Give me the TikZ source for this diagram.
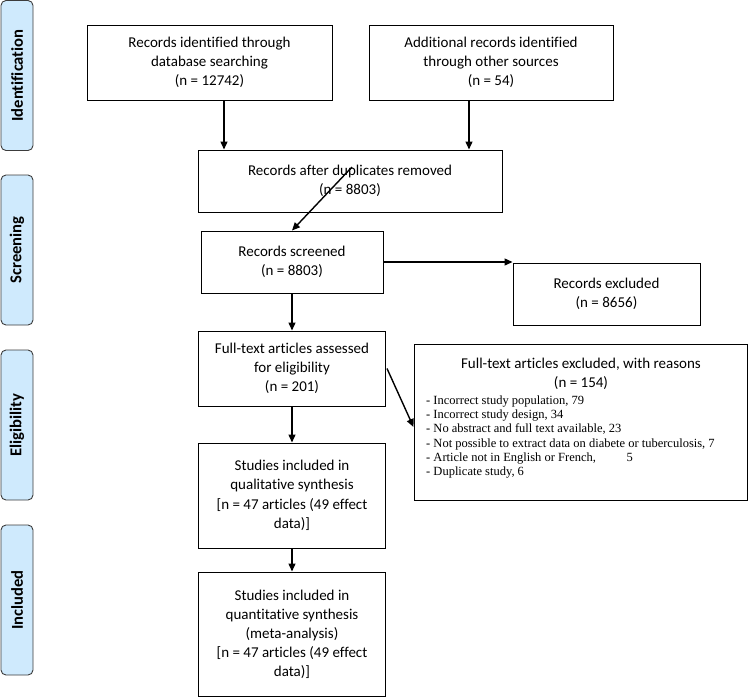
\documentclass[tikz,border=0pt]{standalone}
\usepackage{fontspec}
\setmainfont[Ligatures=CommonOff]{Carlito}
\newfontfamily\tnr{Liberation Serif}
\usetikzlibrary{arrows.meta,calc}
\definecolor{phasefill}{RGB}{207,234,253}
\definecolor{phasedraw}{RGB}{60,60,60}
\tikzset{
  box/.style={draw=black, line width=1pt, inner sep=0pt, align=center,
    font=\fontsize{15}{19}\selectfont},
  phase/.style={draw=phasedraw, fill=phasefill, line width=0.9pt, rounded corners=5pt,
    rotate=90, minimum width=150pt, minimum height=32pt, inner sep=0pt,
    font=\fontsize{16.6}{19}\selectfont\bfseries},
  arr/.style={line width=1.4pt, -{Triangle[length=8pt,width=7pt]}},
  txt/.style={inner sep=0pt, align=center, font=\fontsize{15}{19}\selectfont},
}
\begin{document}
\begin{tikzpicture}[x=1pt,y=-1pt]
\useasboundingbox (0,0) rectangle (748,697);
% phase labels
\node[phase] (pid) at (17,75.5) {Identification};
\node[phase] (pscr) at (17,250) {Screening};
\node[phase] (pel) at (17,425) {Eligibility};
\node[phase] (pinc) at (17,600) {Included};
% boxes
\node[box, minimum width=245pt, minimum height=75pt] (id1) at (209.5,62.5)
  {Records identified through\\database searching\\(n = 12742)};
\node[box, minimum width=244pt, minimum height=75pt] (id2) at (491,62.5)
  {Additional records identified\\through other sources\\(n = 54)};
\node[box, minimum width=304pt, minimum height=62pt] (dup) at (350,181)
  {Records after duplicates removed\\(n = 8803)};
\node[box, minimum width=182pt, minimum height=62pt] (scr) at (292,262)
  {Records screened\\(n = 8803)};
\node[box, minimum width=187pt, minimum height=62pt] (exc) at (606.5,294)
  {Records excluded\\(n = 8656)};
\node[box, minimum width=187pt, minimum height=75pt] (ass) at (292,368.5)
  {Full-text articles assessed\\for eligibility\\(n = 201)};
\node[box, minimum width=187pt, minimum height=105pt, font=\fontsize{15}{19.5}\selectfont] (qual) at (292,495.5)
  {Studies included in\\qualitative synthesis\\{[n = 47 articles (49 effect}\\data)]};
\node[box, minimum width=187pt, minimum height=124pt] (quant) at (292,634)
  {Studies included in\\quantitative synthesis\\(meta-analysis)\\{[n = 47 articles (49 effect}\\data)]};
\node[box, minimum width=333pt, minimum height=156pt] (rea) at (580.5,422) {};
\node[txt] (reat) at (581,374)
  {Full-text articles excluded, with reasons\\(n = 154)};
\node[inner sep=0pt, anchor=west, align=left,
  font=\tnr\fontsize{12.5}{14.2}\selectfont] (real) at (426,437)
  {- Incorrect study population, 79\\
   - Incorrect study design, 34\\
   - No abstract and full text available, 23\\
   - Not possible to extract data on diabete or tuberculosis, 7\\
   - Article not in English or French,\hspace{2.45em}5\\
   - Duplicate study, 6};
% connectors
\coordinate (ax1) at (224,0);
\coordinate (ax2) at (469,0);
\coordinate (dstart) at (352,167);
\draw[arr] (id1.south -| ax1) -- (dup.north -| ax1);
\draw[arr] (id2.south -| ax2) -- (dup.north -| ax2);
\draw[arr] (dstart) -- (scr.north);
\draw[arr] (scr.east) -- (scr.east -| exc.west);
\draw[arr] (scr.south) -- (ass.north);
\draw[arr] (ass.south) -- (qual.north);
\draw[arr] (qual.south) -- (quant.north);
\draw[arr] ($(ass.east)+(1,0)$) -- ($(rea.west)+(0,5)$);
\end{tikzpicture}
\end{document}
